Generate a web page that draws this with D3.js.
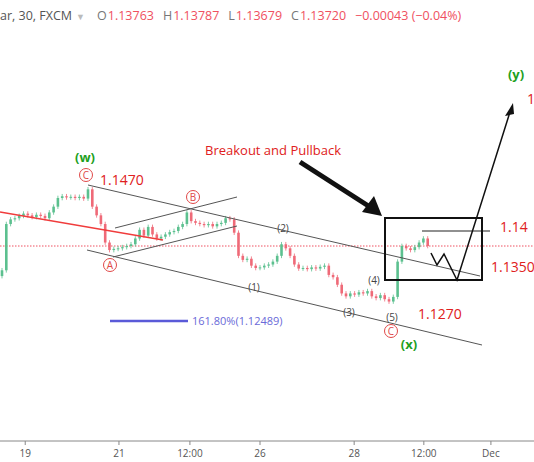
<!DOCTYPE html>
<html><head><meta charset="utf-8">
<script src="https://cdn.jsdelivr.net/npm/d3@7"></script>
<style>body{margin:0;background:#fff}svg{display:block;font-family:"Open Sans",Roboto,sans-serif}</style>
</head><body><svg id="c" width="534" height="462"></svg>
<script>
const closes=[1.1330,1.1410,1.1418,1.1420,1.1424,1.1428,1.1425,1.1422,1.1426,1.1424,1.1420,1.1430,1.1440,1.1455,1.1458,1.1456,1.1457,1.1455,1.1457,1.1454,1.1470,1.1440,1.1425,1.1410,1.1378,1.1365,1.1367,1.1368,1.1370,1.1372,1.1375,1.1385,1.1400,1.1390,1.1405,1.1392,1.1385,1.1388,1.1392,1.1396,1.1398,1.1405,1.1410,1.1430,1.1415,1.1412,1.1410,1.1408,1.1410,1.1406,1.1410,1.1412,1.1420,1.1418,1.1395,1.1355,1.1348,1.1350,1.1338,1.1334,1.1335,1.1338,1.1340,1.1345,1.1355,1.1375,1.1368,1.1355,1.1340,1.1333,1.1334,1.1332,1.1335,1.1333,1.1336,1.1338,1.1322,1.1318,1.1305,1.1290,1.1285,1.1290,1.1288,1.1292,1.1290,1.1294,1.1285,1.1282,1.1287,1.1280,1.1276,1.1284,1.1345,1.1372,1.1368,1.1365,1.1370,1.1378,1.1385,1.1372];
const opens=[1.1320].concat(closes.slice(0,-1));
const tickIdx=[5.4,27.2,43.7,60,81.9,98.1,113.7];
const tickLabels=["19","21","12:00","26","28","12:00","Dec"];
const lastClose=1.1372;

const svg=d3.select("#c");
const x=d3.scaleLinear().domain([0,1]).range([2,6.3]);
const y=d3.scaleLinear().domain([1.1372,1.1270]).range([246,305]);
const wick=0.0004;
const hdr=svg.append("text").attr("x",0).attr("y",20).attr("font-size",12.5);
hdr.append("tspan").attr("fill","#555").text("ar, 30, FXCM");
hdr.append("tspan").attr("fill","#bbb").attr("font-size",9).attr("dx",4).text("▼");
[["O","1.13763"],["H","1.13787"],["L","1.13679"],["C","1.13720"]].forEach((d,i)=>{
  hdr.append("tspan").attr("fill","#777").attr("dx",i?9:12).text(d[0]);
  hdr.append("tspan").attr("fill","#ef5060").attr("dx",1).text(d[1]);
});
hdr.append("tspan").attr("fill","#ef5060").attr("dx",9).text("−0.00043 (−0.04%)");
svg.append("line").attr("x1",0).attr("x2",534).attr("y1",y(lastClose)).attr("y2",y(lastClose)).attr("stroke","#ef5060").attr("stroke-dasharray","1.5,1.5").attr("stroke-width",1);
const g=svg.append("g");
closes.forEach((c,i)=>{
  const o=opens[i],up=c>=o,col=up?"#5cc08f":"#ef6a78";
  g.append("line").attr("x1",x(i)).attr("x2",x(i)).attr("y1",y(Math.max(o,c)+wick)).attr("y2",y(Math.min(o,c)-wick)).attr("stroke",col).attr("stroke-width",0.8);
  const t=y(Math.max(o,c)),b=y(Math.min(o,c));
  g.append("rect").attr("x",x(i)-1.3).attr("width",2.6).attr("y",t).attr("height",Math.max(1,b-t)).attr("fill",col);
});
function ln(x1,y1,x2,y2,col,w){svg.append("line").attr("x1",x1).attr("y1",y1).attr("x2",x2).attr("y2",y2).attr("stroke",col).attr("stroke-width",w||1);}
ln(0,212,163,240,"#f03c3c",1.3);
ln(88,185,480,276,"#555",1);
ln(87,250,482,345,"#555",1);
ln(115,228,237,197,"#555",1);
ln(113,257,237,226,"#555",1);
ln(422,231,490,231,"#222",1.2);
svg.append("rect").attr("x",385).attr("y",218).attr("width",97).attr("height",62).attr("fill","none").attr("stroke","#111").attr("stroke-width",2);
svg.append("polyline").attr("points","431,253 437,265 444,254 457,280 510,112").attr("fill","none").attr("stroke","#111").attr("stroke-width",1.5);
svg.append("path").attr("d","M513,103 L505,116 L514,114 Z").attr("fill","#111");
ln(300,162,370,207,"#111",5);
svg.append("path").attr("d","M382,216 L362,212 L374,196 Z").attr("fill","#111");
ln(110,321,188,321,"#5a5ad8",2.5);
svg.append("text").attr("x",192).attr("y",325).attr("font-size",11).attr("fill","#6a6ad8").text("161.80%(1.12489)");
function t(xx,yy,s,col,size,bold){svg.append("text").attr("x",xx).attr("y",yy).attr("font-size",size).attr("fill",col).attr("font-weight",bold?"bold":"normal").attr("text-anchor","middle").text(s);}
function circ(xx,yy,s){svg.append("circle").attr("cx",xx).attr("cy",yy).attr("r",6.5).attr("fill","#fff").attr("stroke","#e04848");t(xx,yy+4,s,"#e04848",10);}
t(85,162,"(w)","#1ea01e",13,true);
circ(86,175,"C");circ(193,197,"B");circ(110,265,"A");circ(391,331,"C");
svg.append("text").attr("x",100).attr("y",185).attr("font-size",14).attr("fill","#e02020").text("1.1470");
svg.append("text").attr("x",205).attr("y",155).attr("font-size",13).attr("fill","#e02020").text("Breakout and Pullback");
svg.append("text").attr("x",500).attr("y",232).attr("font-size",14).attr("fill","#e02020").text("1.14");
svg.append("text").attr("x",491).attr("y",272).attr("font-size",14).attr("fill","#e02020").text("1.1350");
svg.append("text").attr("x",418).attr("y",319).attr("font-size",14).attr("fill","#e02020").text("1.1270");
svg.append("text").attr("x",527).attr("y",104).attr("font-size",14).attr("fill","#e02020").text("1");
t(516,79,"(y)","#1ea01e",13,true);
t(409,349,"(x)","#1ea01e",13,true);
[["(2)",283,232],["(1)",254,291],["(3)",349,316],["(4)",374,284],["(5)",392,321]].forEach(d=>t(d[1],d[2],d[0],"#444",10));
const ax=svg.append("g").attr("transform","translate(0,441)");
ax.append("line").attr("x1",0).attr("x2",534).attr("stroke","#888");
tickIdx.forEach((v,i)=>{
  ax.append("line").attr("x1",x(v)).attr("x2",x(v)).attr("y2",4).attr("stroke","#888");
  ax.append("text").attr("x",x(v)).attr("y",16).attr("text-anchor","middle").attr("font-size",10).attr("fill","#555").text(tickLabels[i]);
});
</script></body></html>
